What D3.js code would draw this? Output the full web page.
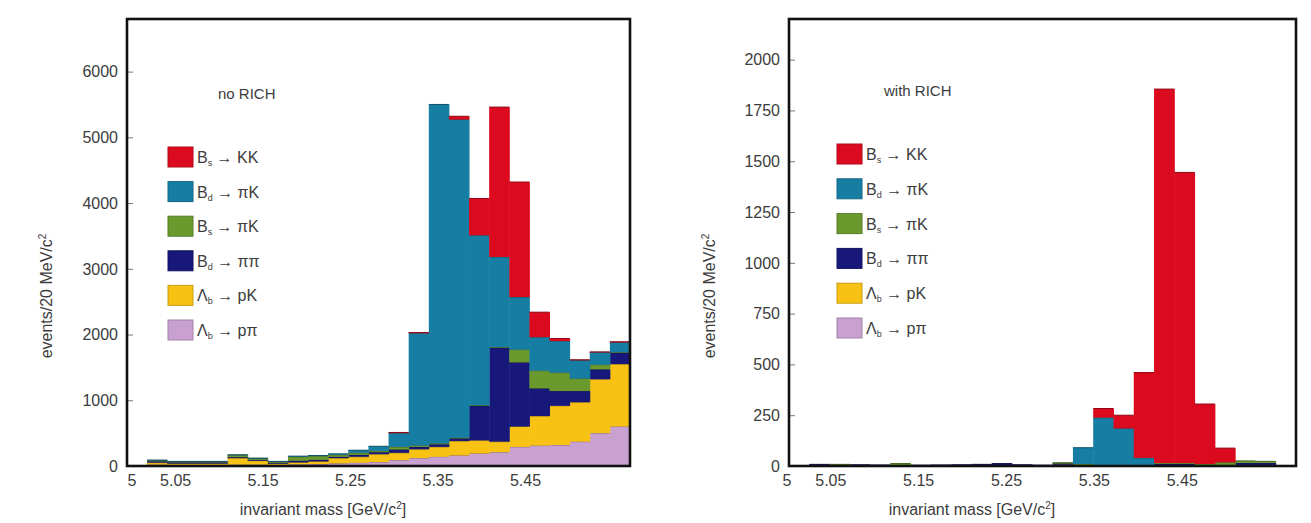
<!DOCTYPE html>
<html>
<head>
<meta charset="utf-8">
<script src="https://cdn.jsdelivr.net/npm/d3@7"></script>
<style>
  html, body { margin: 0; padding: 0; background: #fff; }
  svg { display: block; }
  text { font-family: "Liberation Sans Narrow", "Liberation Sans", Arial, sans-serif; fill: #3c3c3c; }
</style>
</head>
<body>
<svg id="chart" width="1311" height="523"></svg>
<script>
// Invariant-mass histograms of two-body B decays, 25 bins, stacked by decay mode.
const massTicks = [5, 5.05, 5.15, 5.25, 5.35, 5.45];
const binCount = 25;

const modeKeys = ["Lb_ppi", "Lb_pK", "Bd_pipi", "Bs_piK", "Bd_piK", "Bs_KK"];
const modeColors = {
  Bs_KK: "#dc0a1e", Bd_piK: "#177ea3", Bs_piK: "#6a9a2e",
  Bd_pipi: "#17187a", Lb_pK: "#f8c215", Lb_ppi: "#c9a1d0"
};
// legend order (top to bottom)
const legendKeys = ["Bs_KK", "Bd_piK", "Bs_piK", "Bd_pipi", "Lb_pK", "Lb_ppi"];
const legendParts = {
  Bs_KK:   ["B", "s", "KK"],
  Bd_piK:  ["B", "d", "πK"],
  Bs_piK:  ["B", "s", "πK"],
  Bd_pipi: ["B", "d", "ππ"],
  Lb_pK:   ["Λ", "b", "pK"],
  Lb_ppi:  ["Λ", "b", "pπ"]
};

// ---- events per bin, without particle identification ----
const noRich_Lb_ppi  = [0, 20, 15, 15, 15, 20, 20, 15, 25, 30, 40, 50, 60, 90, 120, 140, 160, 190, 210, 290, 310, 320, 370, 500, 600];
const noRich_Lb_pK   = [0, 30, 20, 20, 20, 100, 60, 20, 30, 40, 80, 90, 120, 110, 135, 150, 220, 200, 160, 310, 450, 595, 600, 820, 950];
const noRich_Bd_pipi = [0, 20, 20, 20, 20, 15, 15, 15, 25, 25, 20, 30, 30, 50, 35, 40, 40, 525, 1430, 975, 420, 225, 170, 150, 170];
const noRich_Bs_piK  = [0, 15, 10, 10, 10, 30, 20, 15, 60, 55, 30, 30, 20, 40, 20, 15, 10, 10, 10, 195, 270, 280, 190, 70, 10];
const noRich_Bd_piK  = [0, 5, 5, 5, 5, 5, 5, 5, 10, 10, 15, 40, 70, 210, 1710, 5155, 4840, 2585, 1370, 800, 510, 480, 280, 190, 150];
const noRich_Bs_KK   = [0, 0, 0, 0, 0, 0, 0, 0, 0, 0, 0, 0, 0, 10, 10, 0, 50, 560, 2280, 1750, 380, 40, 5, 5, 10];

// ---- events per bin, with RICH particle identification ----
const rich_Lb_ppi  = [0, 0, 0, 0, 0, 0, 0, 0, 0, 0, 0, 0, 0, 0, 0, 0, 0, 0, 0, 0, 0, 0, 0, 0, 0];
const rich_Lb_pK   = [0, 0, 0, 0, 0, 4, 0, 0, 0, 0, 0, 0, 0, 6, 0, 0, 0, 0, 0, 0, 0, 3, 5, 5, 0];
const rich_Bd_pipi = [0, 8, 5, 6, 5, 0, 4, 5, 6, 8, 12, 6, 4, 6, 5, 0, 0, 5, 10, 10, 5, 0, 10, 10, 0];
const rich_Bs_piK  = [0, 0, 3, 0, 0, 8, 0, 0, 0, 0, 0, 0, 0, 4, 5, 3, 5, 0, 5, 5, 5, 15, 10, 8, 0];
const rich_Bd_piK  = [0, 0, 0, 0, 0, 0, 0, 0, 0, 0, 0, 0, 0, 0, 80, 235, 180, 35, 0, 0, 0, 0, 0, 0, 0];
const rich_Bs_KK   = [0, 0, 0, 0, 0, 0, 0, 0, 0, 0, 0, 0, 0, 0, 0, 45, 65, 420, 1840, 1430, 295, 70, 0, 0, 0];

const svg = d3.select("#chart");

function buildRows(series) {
  return d3.range(binCount).map(i => {
    const row = { bin: i };
    modeKeys.forEach(k => { row[k] = series[k][i]; });
    return row;
  });
}

function drawPanel(cfg) {
  const { left, right, top, bottom, massDomain, yMax, yTicks, series, title, titlePos,
          legendX, legendY, legendStep, yTitleX, xTitleX, yLabelGap } = cfg;

  const g = svg.append("g");
  const x = d3.scaleLinear().domain(massDomain).range([left, right]);
  const xBin = d3.scaleBand().domain(d3.range(binCount)).range([left, right]).paddingInner(0).paddingOuter(0);
  const y = d3.scaleLinear().domain([0, yMax]).range([bottom, top]);

  const stacked = d3.stack().keys(modeKeys)(buildRows(series));

  const layers = g.append("g");
  stacked.forEach(layer => {
    const col = modeColors[layer.key];
    layers.append("g").selectAll("rect")
      .data(layer.filter(d => d[1] - d[0] > 0))
      .join("rect")
      .attr("x", d => xBin(d.data.bin))
      .attr("width", xBin.bandwidth() + 0.5)
      .attr("y", d => y(d[1]))
      .attr("height", d => y(d[0]) - y(d[1]))
      .attr("fill", col);
    // darker outline along the top of each layer
    layers.append("g").selectAll("line")
      .data(layer.filter(d => d[1] - d[0] > 0))
      .join("line")
      .attr("x1", d => xBin(d.data.bin))
      .attr("x2", d => xBin(d.data.bin) + xBin.bandwidth())
      .attr("y1", d => y(d[1]))
      .attr("y2", d => y(d[1]))
      .attr("stroke", d3.color(col).darker(1.2))
      .attr("stroke-width", 1);
  });

  // y axis: ticks pointing inwards, labels to the left
  const yAxis = d3.axisRight(y).tickValues(yTicks).tickSize(6).tickFormat("");
  g.append("g").attr("transform", `translate(${left},0)`).call(yAxis)
    .call(s => s.select(".domain").remove())
    .call(s => s.selectAll("line").attr("stroke", "#777").attr("stroke-width", 1));
  g.append("g").selectAll("text").data(yTicks).join("text")
    .attr("x", left - yLabelGap)
    .attr("y", d => y(d))
    .attr("dy", "0.36em")
    .attr("text-anchor", "end")
    .attr("font-size", 16)
    .text(d => d);

  // x axis labels
  const xAxis = d3.axisBottom(x).tickValues(massTicks).tickSize(0)
    .tickFormat(d => d === 5 ? "5" : d3.format(".2f")(d));
  g.append("g").attr("transform", `translate(0,${bottom})`).call(xAxis)
    .call(s => s.select(".domain").remove())
    .call(s => s.selectAll("text").attr("font-size", 16).attr("fill", "#3c3c3c").attr("dy", "1.05em")
      .style("font-family", "'Liberation Sans Narrow','Liberation Sans',Arial,sans-serif"));

  // frame
  g.append("rect")
    .attr("x", left).attr("y", top)
    .attr("width", right - left).attr("height", bottom - top)
    .attr("fill", "none").attr("stroke", "#111").attr("stroke-width", 2.6);

  // axis titles
  g.append("text")
    .attr("x", xTitleX)
    .attr("y", 515)
    .attr("text-anchor", "middle")
    .attr("font-size", 16)
    .call(t => {
      t.append("tspan").text("invariant mass [GeV/c");
      t.append("tspan").attr("font-size", 10).attr("dy", -6).text("2");
      t.append("tspan").attr("dy", 6).text("]");
    });

  g.append("text")
    .attr("transform", `translate(${yTitleX},296) rotate(-90)`)
    .attr("text-anchor", "middle")
    .attr("font-size", 16)
    .call(t => {
      t.append("tspan").text("events/20 MeV/c");
      t.append("tspan").attr("font-size", 10).attr("dy", -6).text("2");
    });

  g.append("text")
    .attr("x", titlePos[0]).attr("y", titlePos[1])
    .attr("font-size", 15)
    .text(title);

  // legend
  const leg = g.append("g");
  legendKeys.forEach((k, i) => {
    const cy = legendY + i * legendStep;
    leg.append("rect")
      .attr("x", legendX).attr("y", cy - 10)
      .attr("width", 25).attr("height", 20)
      .attr("fill", modeColors[k])
      .attr("stroke", d3.color(modeColors[k]).darker(0.6)).attr("stroke-width", 1);
    const p = legendParts[k];
    const t = leg.append("text")
      .attr("x", legendX + 29).attr("y", cy + 6)
      .attr("font-size", 16);
    t.append("tspan").text(p[0]);
    t.append("tspan").attr("font-size", 9).attr("dy", 3).text(p[1]);
    t.append("tspan").attr("dy", -3).text(" → " + p[2]);
  });
}

drawPanel({
  left: 127, right: 630, top: 19, bottom: 466,
  massDomain: [4.995, 5.57],
  yMax: 6800, yTicks: [0, 1000, 2000, 3000, 4000, 5000, 6000],
  series: {
    Lb_ppi: noRich_Lb_ppi, Lb_pK: noRich_Lb_pK, Bd_pipi: noRich_Bd_pipi,
    Bs_piK: noRich_Bs_piK, Bd_piK: noRich_Bd_piK, Bs_KK: noRich_Bs_KK
  },
  title: "no RICH", titlePos: [218, 99],
  legendX: 168, legendY: 157, legendStep: 34.6,
  yTitleX: 52, xTitleX: 323, yLabelGap: 9
});

drawPanel({
  left: 789, right: 1296, top: 19, bottom: 466,
  massDomain: [5.003, 5.58],
  yMax: 2200, yTicks: [0, 250, 500, 750, 1000, 1250, 1500, 1750, 2000],
  series: {
    Lb_ppi: rich_Lb_ppi, Lb_pK: rich_Lb_pK, Bd_pipi: rich_Bd_pipi,
    Bs_piK: rich_Bs_piK, Bd_piK: rich_Bd_piK, Bs_KK: rich_Bs_KK
  },
  title: "with RICH", titlePos: [884, 96],
  legendX: 837, legendY: 154, legendStep: 34.8,
  yTitleX: 715, xTitleX: 972, yLabelGap: 9
});
</script>
</body>
</html>
